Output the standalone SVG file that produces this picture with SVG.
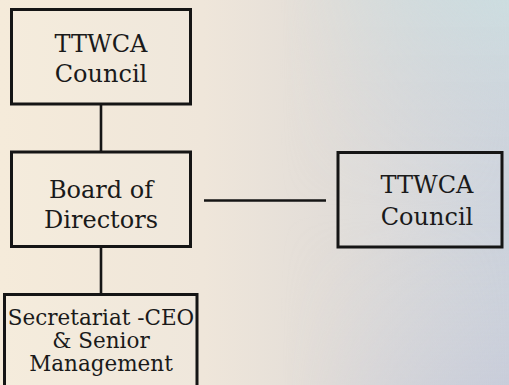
<svg xmlns="http://www.w3.org/2000/svg" width="509" height="385" viewBox="0 0 509 385">
<defs>
<linearGradient id="bg" x1="0" y1="0" x2="1" y2="0">
<stop offset="0" stop-color="#f5ebda"/>
<stop offset="0.4" stop-color="#efe6da"/>
<stop offset="0.65" stop-color="#e2ddd8"/>
<stop offset="1" stop-color="#cbd2dc"/>
</linearGradient>
<linearGradient id="tint" x1="0" y1="0" x2="0" y2="1">
<stop offset="0" stop-color="#cde0e1" stop-opacity="0.8"/>
<stop offset="0.55" stop-color="#d6d6dc" stop-opacity="0"/>
<stop offset="1" stop-color="#c6c8d8" stop-opacity="0.5"/>
</linearGradient>
<linearGradient id="mg" x1="0" y1="0" x2="1" y2="0">
<stop offset="0.55" stop-color="#fff" stop-opacity="0"/>
<stop offset="1" stop-color="#fff" stop-opacity="1"/>
</linearGradient>
<mask id="m"><rect x="0" y="0" width="509" height="385" fill="url(#mg)"/></mask>
<style>
.box{fill:#ffffff;fill-opacity:0.06;stroke:#151515;stroke-width:3}
.lbl{font-family:"DejaVu Serif","Liberation Serif",serif;font-size:24px;fill:#1a1a1a;text-anchor:middle}
.sm{font-size:21.5px}
.conn{stroke:#151515;stroke-width:2.6;fill:none}
</style>
</defs>
<rect x="0" y="0" width="509" height="385" fill="url(#bg)"/>
<rect x="0" y="0" width="509" height="385" fill="url(#tint)" mask="url(#m)"/>
<g id="connectors">
<line class="conn" x1="101" y1="104" x2="101" y2="152"/>
<line class="conn" x1="101" y1="247" x2="101" y2="294"/>
<line class="conn" x1="204" y1="200.5" x2="326" y2="200.5"/>
</g>
<g id="ttwca-council-top">
<rect class="box" x="11.5" y="9.5" width="179" height="94.5"/>
<text class="lbl" x="101" y="51.5">TTWCA</text>
<text class="lbl" x="101" y="82">Council</text>
</g>
<g id="board-of-directors">
<rect class="box" x="11.5" y="152" width="179" height="94.5"/>
<text class="lbl" x="101" y="197.5">Board of</text>
<text class="lbl" x="101" y="227.5">Directors</text>
</g>
<g id="ttwca-council-right">
<rect class="box" x="338" y="152.5" width="164" height="94.5"/>
<text class="lbl" x="427" y="193">TTWCA</text>
<text class="lbl" x="427" y="225">Council</text>
</g>
<g id="secretariat">
<rect class="box" x="4.5" y="294.5" width="192.5" height="100"/>
<text class="lbl sm" x="101" y="325">Secretariat -CEO</text>
<text class="lbl sm" x="101" y="347.5">&amp; Senior</text>
<text class="lbl sm" x="101" y="371">Management</text>
</g>
</svg>
